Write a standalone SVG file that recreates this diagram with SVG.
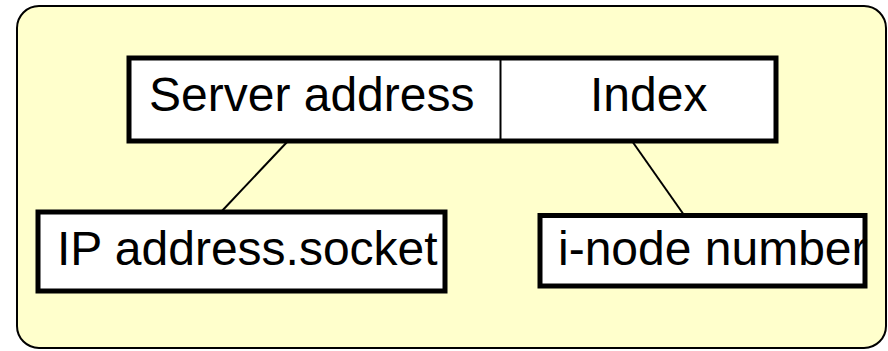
<svg xmlns="http://www.w3.org/2000/svg" width="888" height="351" viewBox="0 0 888 351">
  <style>
    .panel { fill: #FFFFCC; stroke: #000; stroke-width: 2; }
    .box { fill: #FFFFFF; stroke: #000; stroke-width: 5; }
    .divider { stroke: #000; stroke-width: 2; }
    .link { stroke: #000; stroke-width: 2; fill: none; }
    .label { font-family: "Liberation Sans", Arial, sans-serif; font-size: 48px; fill: #000; }
  </style>

  <!-- background panel -->
  <rect class="panel" x="17" y="6" width="869" height="342" rx="22" ry="22"/>

  <!-- connectors -->
  <g id="connectors">
    <line class="link" x1="288" y1="141" x2="221" y2="212"/>
    <line class="link" x1="632" y1="141" x2="684" y2="215"/>
  </g>

  <!-- file handle record: server address | index -->
  <g id="file-handle">
    <rect class="box" x="129" y="58" width="647" height="83"/>
    <line class="divider" x1="500.5" y1="58" x2="500.5" y2="141"/>
    <g id="server-address">
      <text class="label" x="149" y="111">Server address</text>
    </g>
    <g id="index">
      <text class="label" x="590" y="111">Index</text>
    </g>
  </g>

  <g id="ip-address-socket">
    <rect class="box" x="38" y="212" width="407" height="79"/>
    <text class="label" x="57" y="265">IP address.socket</text>
  </g>

  <g id="inode-number">
    <rect class="box" x="540" y="215.5" width="325" height="70.5"/>
    <text class="label" x="558" y="265">i-node number</text>
  </g>
</svg>
